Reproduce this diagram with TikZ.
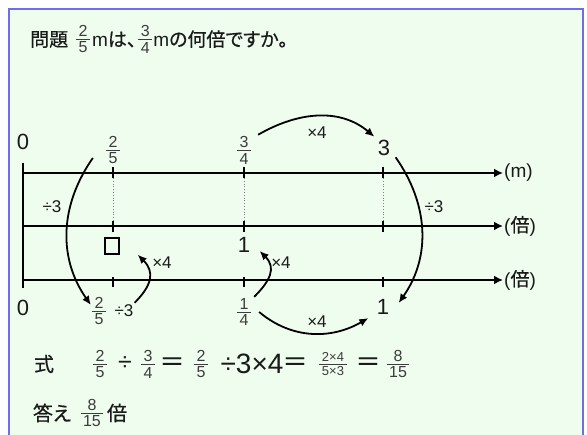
\documentclass[tikz,border=0pt]{standalone}
\usepackage{fontspec}
\setmainfont{Liberation Sans}
\newfontfamily\jp{Noto Sans CJK JP}[FakeBold=0.6, RawFeature=+palt]
\usetikzlibrary{
  arrows.meta,
  calc
}
\definecolor{nlFrame}{HTML}{6E6EE6}
\definecolor{nlBg}{HTML}{EFFDEE}
\definecolor{nlInk}{HTML}{1A1A1A}
\definecolor{nlFrac}{HTML}{3C3C3C}
\definecolor{nlDot}{HTML}{808080}
\newcommand{\bunsu}[3][16]{{\fontsize{#1}{#1}\selectfont\color{nlFrac}%
  $\vcenter{\offinterlineskip\halign{\hfil\kern2.5pt##\kern2.5pt\hfil\cr
    #2\cr\noalign{\vskip2.5pt\hrule height0.8pt\vskip2.5pt}#3\cr}}$}}

\begin{document}
\begin{tikzpicture}[x=1pt, y=1pt, text=nlInk, font=\fontsize{16}{18}\selectfont,
  axisline/.style={line width=2.2pt, -{Latex[length=9pt,width=9pt]}},
  tickline/.style={line width=1.2pt},
  dotline/.style={line width=0.8pt, dotted, nlDot},
  bigarc/.style={line width=1.8pt, -{Latex[length=9pt,width=8pt]}},
  numlbl/.style={font=\fontsize{22}{22}\selectfont},
  oplbl/.style={font=\fontsize{17}{17}\selectfont, inner sep=1pt},
  unitlbl/.style={font=\fontsize{19}{19}\selectfont, anchor=west, inner sep=1pt},
  frlbl/.style={inner sep=1pt},
  jplbl/.style={font=\jp\fontsize{20}{20}\selectfont},
  eqpart/.style={font=\fontsize{25}{25}\selectfont, inner sep=1pt}]
  \useasboundingbox (0,0) rectangle (587,435);
  \draw[nlFrame, line width=2.5pt, fill=nlBg] (9,-10) rectangle (583,426);

  % question
  \node[anchor=west, font=\fontsize{19}{19}\selectfont, inner sep=0pt] (title) at (30,396)
    {{\jp 問題}\hspace{8pt}\raisebox{3pt}{\bunsu{2}{5}}\hspace{2pt}m{\jp は、}\hspace{2pt}\raisebox{3pt}{\bunsu{3}{4}}\hspace{1pt}m{\jp の何倍ですか。}};

  % number lines
  \draw[tickline] (23,272) -- (23,147);
  \foreach \y/\u/\n in {262/{(m)}/unitM, 209/{({\jp 倍})}/unitA, 155/{({\jp 倍})}/unitB}{
    \node[unitlbl] (\n) at (503,\y) {\u};
    \draw[axisline] (23,\y) -- (\n.west);
  }
  \foreach \x in {113,244,383}{
    \draw[tickline] (\x,268) -- (\x,257);
    \draw[dotline] (\x,257) -- (\x,214);
    \draw[tickline] (\x,214) -- (\x,203);
    \draw[tickline] (\x,158) -- (\x,148);
  }

  \node[numlbl] (zeroT) at (23,293) {0};
  \node[numlbl] (zeroB) at (23,127) {0};
  \node[frlbl] (fA) at (113,285) {\bunsu{2}{5}};
  \node[frlbl] (fB) at (244,285) {\bunsu{3}{4}};
  \node[numlbl] (three) at (384,287) {3};
  \node[draw, line width=1.4pt, minimum width=14pt, minimum height=16pt, inner sep=0pt] (box) at (112,189) {};
  \node[numlbl] (oneA) at (244,190) {1};
  \node[frlbl] (fC) at (99,124) {\bunsu{2}{5}};
  \node[oplbl] (dvC) at (124,124) {÷3};
  \node[frlbl] (fD) at (244,123) {\bunsu{1}{4}};
  \node[numlbl] (oneB) at (383,128) {1};

  \node[oplbl] (dvL) at (52,228) {÷3};
  \node[oplbl] (dvR) at (434,228) {÷3};
  \node[oplbl] (mulT) at (317,302) {×4};
  \node[oplbl] (mulA) at (162,172) {×4};
  \node[oplbl] (mulB) at (281,172) {×4};
  \node[oplbl] (mulD) at (317,113) {×4};

  % curved arrows
  \draw[bigarc] ([shift={(-12pt,-8pt)}]fA.west) to[out=235, in=125] ([yshift=6pt]fC.west);
  \draw[bigarc] ([shift={(2pt,2pt)}]three.south east) to[out=-55, in=55] ([shift={(6pt,4pt)}]oneB.east);
  \draw[bigarc] ([xshift=6pt]fB.north east) to[out=30, in=140] (three.north west);
  \draw[bigarc] ([xshift=7pt]fD.east) to[out=-40, in=-150] ([xshift=-5pt]oneB.south west);
  \draw[bigarc] ([yshift=1pt]dvC.north east) to[out=45, in=-45, looseness=1.3] ([xshift=18pt]box.south east);
  \draw[bigarc] ([xshift=2pt]fD.north east) to[out=45, in=-45, looseness=1.3] ([shift={(6pt,-6pt)}]oneA.east);

  % expression and answer
  \node[jplbl] (shiki) at (44,71) {式};
  \foreach \x/\t [count=\i] in {100/{\bunsu[16]{2}{5}}, 125/{÷}, 148/{\bunsu[16]{3}{4}}, 172/{{\jp ＝}},
      201/{\bunsu[16]{2}{5}}, 252/{{\fontsize{28}{28}\selectfont ÷3×4}}, 295/{{\jp ＝}},
      333/{\bunsu[13]{2×4}{5×3}}, 368/{{\jp ＝}}, 398/{\bunsu[16]{8}{15}}}
    \node[eqpart] (eq\i) at (\x,71) {\t};
  \node[jplbl] (kotae) at (52,22) {答え};
  \node[frlbl] (ansFr) at (92,22) {\bunsu{8}{15}};
  \node[jplbl] (bai) at (117,22) {倍};
\end{tikzpicture}
\end{document}
